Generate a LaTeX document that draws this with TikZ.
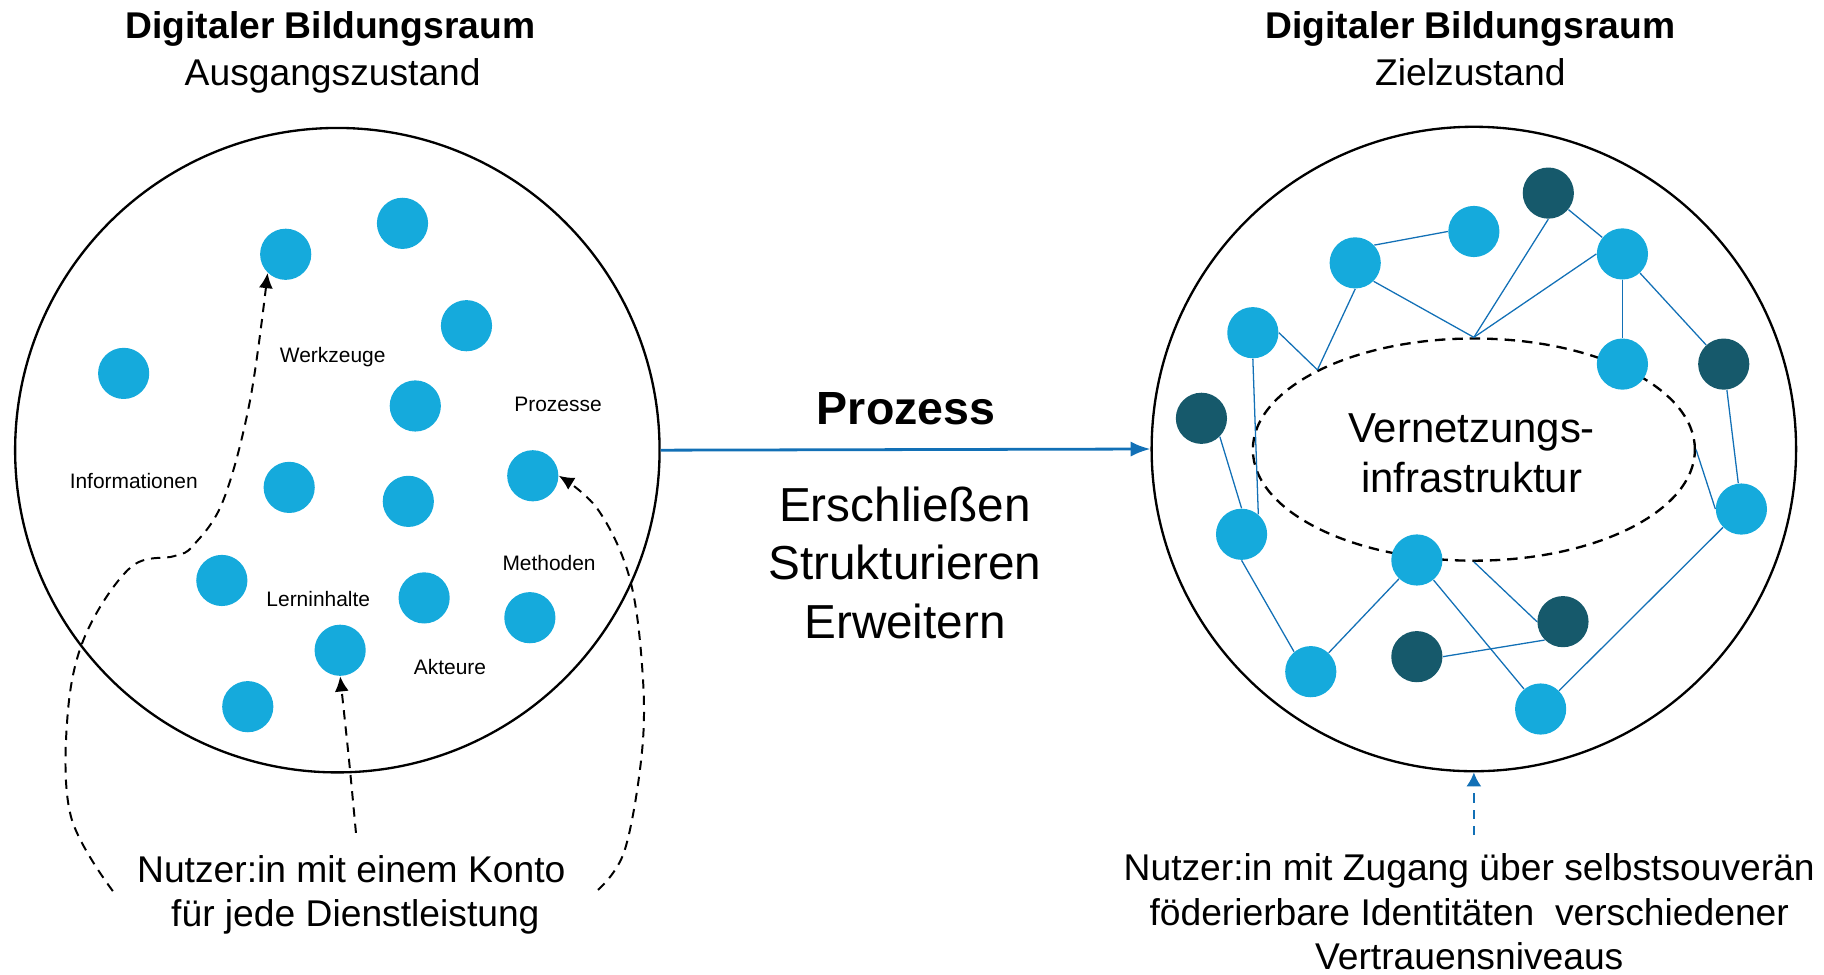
\documentclass[tikz,border=0pt]{standalone}
\usepackage{fontspec}
\setmainfont{Liberation Sans}
\usetikzlibrary{arrows.meta,shapes.geometric}
\definecolor{dotblue}{RGB}{21,170,220}
\definecolor{dotdark}{RGB}{22,89,107}
\definecolor{linkblue}{RGB}{18,112,182}
\begin{document}
\begin{tikzpicture}[x=0.5pt,y=-0.5pt,
  dot/.style={circle,fill=dotblue,minimum size=22pt,inner sep=0pt},
  ddot/.style={dot,fill=dotdark},
  space/.style={circle,draw=black,line width=1pt,minimum size=277pt,inner sep=0pt},
  link/.style={linkblue,line width=0.55pt},
  dsh/.style={dash pattern=on 4pt off 3pt,line width=0.85pt},
  tip/.style={-{Latex[length=6.5pt,width=6pt]}},
  small/.style={font=\fontsize{9}{11}\selectfont},
  big/.style={font=\fontsize{16}{19}\selectfont,anchor=base,inner sep=0pt},
  mid/.style={font=\fontsize{20.5}{25}\selectfont,anchor=base,inner sep=0pt},
  vz/.style={font=\fontsize{18}{21.5}\selectfont,anchor=base,inner sep=0pt}
]
\useasboundingbox (0,0) rectangle (1568,838);

% titles
\node[big,font=\fontsize{16}{19}\selectfont\bfseries] (tl1) at (284,33.5) {Digitaler Bildungsraum};
\node[big] (tl2) at (286,73.5) {Ausgangszustand};
\node[big,font=\fontsize{16}{19}\selectfont\bfseries] (tr1) at (1264,33.5) {Digitaler Bildungsraum};
\node[big] (tr2) at (1264,73.5) {Zielzustand};

% big circles
\node[space] (lc) at (290,387) {};
\node[space] (rc) at (1267,386) {};

% middle
\node[font=\fontsize{20}{24}\selectfont\bfseries,anchor=base,inner sep=0pt] (pz) at (779,364.5) {Prozess};
\node[mid] (st1) at (778,448.5) {Erschließen};
\node[mid] (st2) at (778,498.5) {Strukturieren};
\node[mid] (st3) at (778,548.5) {Erweitern};
\draw[linkblue,line width=1.2pt,-{Latex[length=8.5pt,width=6.5pt]}] (lc.east) -- (rc.west);

% left dots
\node[dot] (l1) at (245.6,218.6) {};
\node[dot] (l2) at (346,192) {};
\node[dot] (l3) at (401,280) {};
\node[dot] (l4) at (106.3,321) {};
\node[dot] (l5) at (357,349) {};
\node[dot] (l6) at (248.6,419) {};
\node[dot] (l7) at (351,431) {};
\node[dot] (l8) at (458,409) {};
\node[dot] (l9) at (190.7,499) {};
\node[dot] (l10) at (364.6,514) {};
\node[dot] (l11) at (455.5,531) {};
\node[dot] (l12) at (292.4,559) {};
\node[dot] (l13) at (213,607.5) {};

% left labels
\node[small] (w) at (286,306.6) {Werkzeuge};
\node[small] (p) at (479.7,347.4) {Prozesse};
\node[small] (inf) at (115,413.5) {Informationen};
\node[small] (me) at (472,483.7) {Methoden};
\node[small] (le) at (273.6,515) {Lerninhalte};
\node[small] (ak) at (386.8,573.6) {Akteure};

% left bottom text
\node[big] (ul1) at (302,758.5) {Nutzer:in mit einem Konto};
\node[big] (ul2) at (305.5,796.5) {für jede Dienstleistung};
\coordinate (s1) at (97,766);
\coordinate (s2) at (306,716);
\coordinate (s3) at (514,765);
\draw[dsh,tip] plot[smooth,tension=0.6] coordinates {(s1) (61,702) (58,616) (73,547) (112,488) (150,478) (166,469) (192,430) (215,344) (l1.226)};
\draw[dsh,tip] plot[smooth,tension=0.5] coordinates {(s2) (300,653) (l12.south)};
\draw[dsh,tip] plot[smooth,tension=0.6] coordinates {(s3) (537,731) (552,645) (552,573) (541,496) (514,438) (l8.east)};

% right: ellipse
\node[ellipse,draw=black,dash pattern=on 4.5pt off 3pt,line width=1pt,minimum width=190pt,minimum height=95.5pt,inner sep=0pt] (ell) at (1267,386.5) {};
\node[vz] (vz1) at (1265,380) {Vernetzungs-};
\node[vz] (vz2) at (1265,423) {infrastruktur};

% right dots
\node[ddot] (A) at (1331,166) {};
\node[dot] (B) at (1267,199) {};
\node[dot] (C) at (1165,226) {};
\node[dot] (D) at (1394.7,218.3) {};
\node[dot] (E) at (1077,286) {};
\node[dot] (F) at (1394.7,313) {};
\node[ddot] (G) at (1481.8,313) {};
\node[ddot] (H) at (1032.8,359.6) {};
\node[dot] (I) at (1497,437.6) {};
\node[dot] (J) at (1067.3,459.3) {};
\node[dot] (K) at (1218,481.4) {};
\node[ddot] (L) at (1343.6,534.4) {};
\node[ddot] (M) at (1218,564.5) {};
\node[dot] (N) at (1126.8,577.4) {};
\node[dot] (O) at (1324.4,609.5) {};

% right links
\draw[link] (C.43) -- (B.west);
\draw[link] (A) -- (D);
\draw[link] (C.-45) -- (ell.north);
\draw[link] (A.south) -- (ell.north);
\draw[link] (D.west) -- (ell.north);
\draw[link] (C.south) -- (ell.153);
\draw[link] (E.east) -- (ell.153);
\draw[link] (D) -- (F);
\draw[link] (D) -- (G);
\draw[link] (G) -- (I);
\draw[link] (I.west) -- (ell.east);
\draw[link] (E.south) -- (J.50);
\draw[link] (H.-45) -- (J.north);
\draw[link] (J.south) -- (N.130);
\draw[link] (N) -- (K);
\draw[link] (K) -- (O);
\draw[link] (ell.south) -- (L.west);
\draw[link] (M.east) -- (L.225);
\draw[link] (O) -- (I);

% right bottom text
\node[big] (ur1) at (1263,757) {Nutzer:in mit Zugang über selbstsouverän};
\node[big] (ur2) at (1263,795.5) {föderierbare Identitäten\ \ verschiedener};
\node[big] (ur3) at (1263,833.5) {Vertrauensniveaus};
\coordinate (s4) at (1267,718);
\draw[linkblue,dash pattern=on 4pt off 3pt,line width=0.9pt,-{Latex[length=6pt,width=6.5pt]}] (s4) -- (rc.south);
\end{tikzpicture}
\end{document}
